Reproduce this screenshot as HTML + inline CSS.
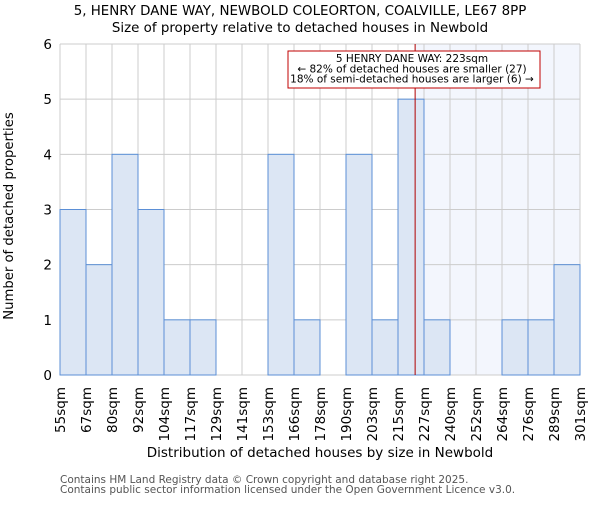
<!DOCTYPE html>
<html><head><meta charset="utf-8"><style>
body{margin:0;background:#fff;}
text{font-family:"DejaVu Sans","Liberation Sans",sans-serif;}
</style></head><body>
<svg id="chart" width="600" height="500" xmlns="http://www.w3.org/2000/svg">
<text x="300" y="15" text-anchor="middle" font-size="13.4">5, HENRY DANE WAY, NEWBOLD COLEORTON, COALVILLE, LE67 8PP</text>
<text x="300" y="32" text-anchor="middle" font-size="13.4">Size of property relative to detached houses in Newbold</text>
<g id="plot"></g>
<text x="320" y="457" text-anchor="middle" font-size="13.5">Distribution of detached houses by size in Newbold</text>
<text transform="translate(13,216) rotate(-90)" text-anchor="middle" font-size="13.2">Number of detached properties</text>
<text x="60" y="483" font-size="10.5" fill="#555">Contains HM Land Registry data © Crown copyright and database right 2025.</text>
<text x="60" y="493" font-size="10.5" fill="#555">Contains public sector information licensed under the Open Government Licence v3.0.</text>
</svg>
<script>
const categories=["55sqm","67sqm","80sqm","92sqm","104sqm","117sqm","129sqm","141sqm","153sqm","166sqm","178sqm","190sqm","203sqm","215sqm","227sqm","240sqm","252sqm","264sqm","276sqm","289sqm","301sqm"];
const counts=[3,2,4,3,1,1,0,0,4,1,0,4,1,5,1,0,0,1,1,2];
const yTicks=[0,1,2,3,4,5,6];
const propertySize=223;
const binStart=55, binWidth=12.3;
const X0=60,X1=580,Y0=375,Y1=44;
const n=counts.length;
const bw=(X1-X0)/n;
const xs=i=>X0+i*bw;
const xv=v=>X0+(v-binStart)/binWidth*bw;
const ys=v=>Y0-(v/6)*(Y0-Y1);
const g=document.getElementById('plot');
const NS="http://www.w3.org/2000/svg";
function mk(t,a){const e=document.createElementNS(NS,t);for(const k in a)e.setAttribute(k,a[k]);g.appendChild(e);return e;}
const px=xv(propertySize);
let sh=mk('rect',{x:px,y:Y1,width:X1-px,height:Y0-Y1,fill:'#f3f6fd'});


for(let i=0;i<=n;i++){let l=mk('line',{x1:xs(i),x2:xs(i),y1:Y1,y2:Y0,stroke:'#ccc'});

}
yTicks.forEach(t=>{let l=mk('line',{x1:X0,x2:X1,y1:ys(t),y2:ys(t),stroke:'#ccc'});


let tx=mk('text',{x:X0-8,y:ys(t)+5,'text-anchor':'end','font-size':13.5});tx.textContent=t;

});
counts.forEach((c,i)=>{if(c<=0)return;let r=mk('rect',{x:xs(i),y:ys(c),width:bw,height:ys(0)-ys(c),fill:'#dce6f4',stroke:'#5b8fd6','stroke-width':1});

});
categories.forEach((c,i)=>{let tx=mk('text',{transform:`translate(${xs(i)+5},387) rotate(-90)`,'text-anchor':'end','font-size':13.5});tx.textContent=c;

});
let rl=mk('line',{x1:px,x2:px,y1:Y1,y2:Y0,stroke:'#b00000','stroke-width':1});


let box=mk('rect',{x:288,y:51,width:252,height:37,fill:'#fff',stroke:'#c00000'});


["5 HENRY DANE WAY: 223sqm","← 82% of detached houses are smaller (27)","18% of semi-detached houses are larger (6) →"].forEach((s,i)=>{let t=mk('text',{x:412,y:62+i*10.3,'text-anchor':'middle','font-size':10.5});t.textContent=s;

});
</script>
</body></html>
